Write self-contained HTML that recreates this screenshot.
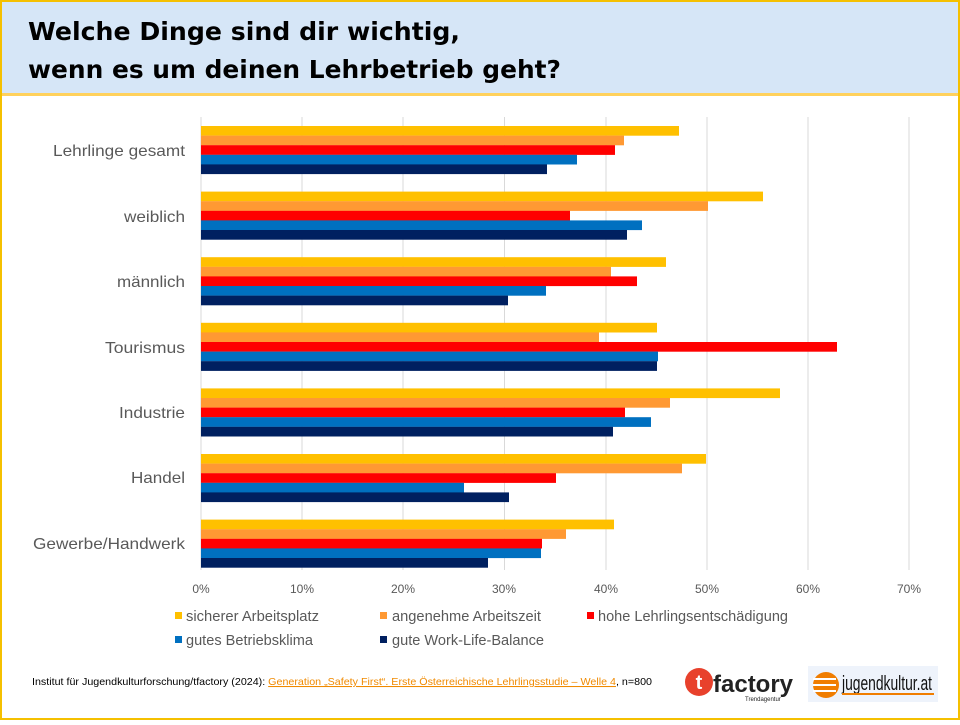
<!DOCTYPE html>
<html><head><meta charset="utf-8"><style>
body{margin:0;width:960px;height:720px;overflow:hidden;background:#fff;font-family:"Liberation Sans",sans-serif}
</style></head><body>
<svg width="960" height="720" xmlns="http://www.w3.org/2000/svg" font-family="Liberation Sans, sans-serif">
<rect x="0" y="0" width="960" height="93" fill="#d6e6f7"/>
<rect x="0" y="93" width="960" height="3" fill="#ffd15c"/>
<rect x="1" y="1" width="958" height="718" fill="none" stroke="#f5c000" stroke-width="2"/>
<text x="28" y="40" font-family="Comic Sans MS, DejaVu Sans, sans-serif" font-size="25" font-weight="bold" fill="#000" textLength="432" lengthAdjust="spacingAndGlyphs">Welche Dinge sind dir wichtig,</text>
<text x="28" y="78" font-family="Comic Sans MS, DejaVu Sans, sans-serif" font-size="25" font-weight="bold" fill="#000" textLength="533" lengthAdjust="spacingAndGlyphs">wenn es um deinen Lehrbetrieb geht?</text>
<g stroke="#d9d9d9" stroke-width="1">
<line x1="201" y1="117" x2="201" y2="570"/><line x1="302" y1="117" x2="302" y2="570"/><line x1="403" y1="117" x2="403" y2="570"/><line x1="504.5" y1="117" x2="504.5" y2="570"/><line x1="606" y1="117" x2="606" y2="570"/><line x1="707" y1="117" x2="707" y2="570"/><line x1="808" y1="117" x2="808" y2="570"/><line x1="909" y1="117" x2="909" y2="570"/>
</g>
<g id="bars"></g>
<g font-size="12" fill="#595959" text-anchor="middle">
<text x="201" y="593">0%</text><text x="302" y="593">10%</text><text x="403" y="593">20%</text><text x="504" y="593">30%</text><text x="606" y="593">40%</text><text x="707" y="593">50%</text><text x="808" y="593">60%</text><text x="909" y="593">70%</text>
</g>
<g font-size="16" fill="#595959" lengthAdjust="spacingAndGlyphs">
<text x="53" y="156" textLength="132" lengthAdjust="spacingAndGlyphs">Lehrlinge gesamt</text><text x="124" y="222" textLength="61" lengthAdjust="spacingAndGlyphs">weiblich</text><text x="117" y="287" textLength="68" lengthAdjust="spacingAndGlyphs">männlich</text><text x="105" y="353" textLength="80" lengthAdjust="spacingAndGlyphs">Tourismus</text><text x="119" y="418" textLength="66" lengthAdjust="spacingAndGlyphs">Industrie</text><text x="131" y="483" textLength="54" lengthAdjust="spacingAndGlyphs">Handel</text><text x="33" y="549" textLength="152" lengthAdjust="spacingAndGlyphs">Gewerbe/Handwerk</text>
</g>
<g font-size="15" fill="#595959">
<rect x="175" y="612" width="7" height="7" fill="#ffc000"/><text x="186" y="621" textLength="133" lengthAdjust="spacingAndGlyphs">sicherer Arbeitsplatz</text>
<rect x="380" y="612" width="7" height="7" fill="#ff9933"/><text x="392" y="621" textLength="149" lengthAdjust="spacingAndGlyphs">angenehme Arbeitszeit</text>
<rect x="587" y="612" width="7" height="7" fill="#ff0000"/><text x="598" y="621" textLength="190" lengthAdjust="spacingAndGlyphs">hohe Lehrlingsentschädigung</text>
<rect x="175" y="636" width="7" height="7" fill="#0070c0"/><text x="186" y="645" textLength="127" lengthAdjust="spacingAndGlyphs">gutes Betriebsklima</text>
<rect x="380" y="636" width="7" height="7" fill="#002060"/><text x="392" y="645" textLength="152" lengthAdjust="spacingAndGlyphs">gute Work-Life-Balance</text>
</g>
<text x="32" y="685" font-size="10.5" fill="#000" textLength="620" lengthAdjust="spacingAndGlyphs">Institut für Jugendkulturforschung/tfactory (2024): <tspan fill="#f08a00" text-decoration="underline">Generation „Safety First“. Erste Österreichische Lehrlingsstudie – Welle 4</tspan>, n=800</text>
<circle cx="699" cy="682" r="14" fill="#e8412c"/>
<text x="699" y="689" font-size="20" font-weight="bold" fill="#fff" text-anchor="middle">t</text>
<text x="713" y="692" font-size="24" font-weight="bold" fill="#222">factory</text>
<text x="745" y="701" font-size="6" fill="#222">Trendagentur</text>
<rect x="808" y="666" width="130" height="36" fill="#eef3fb"/>
<circle cx="826" cy="685" r="13" fill="#f07d00"/>
<g stroke="#fff" stroke-width="2"><line x1="813" y1="679" x2="836" y2="679"/><line x1="813" y1="685" x2="836" y2="685"/><line x1="813" y1="691" x2="836" y2="691"/></g>
<text x="842" y="690" font-size="20" fill="#111" textLength="90" lengthAdjust="spacingAndGlyphs">jugendkultur.at</text>
<line x1="842" y1="694" x2="934" y2="694" stroke="#f07d00" stroke-width="2"/>
</svg>
<script>
var ends=[[679,624,615,577,547],[763,708,570,642,627],[666,611,637,546,508],[657,599,837,658,657],[780,670,625,651,613],[706,682,556,464,509],[614,566,542,541,488]];
var cols=["#ffc000","#ff9933","#ff0000","#0070c0","#002060"];
var g=document.getElementById("bars"),s="";
for(var i=0;i<7;i++)for(var j=0;j<5;j++){var y=126+i*65.6+j*9.6;s+='<rect x="201" y="'+y+'" width="'+(ends[i][j]-201)+'" height="9.7" fill="'+cols[j]+'"/>';}
g.innerHTML=s;
</script>
</body></html>
